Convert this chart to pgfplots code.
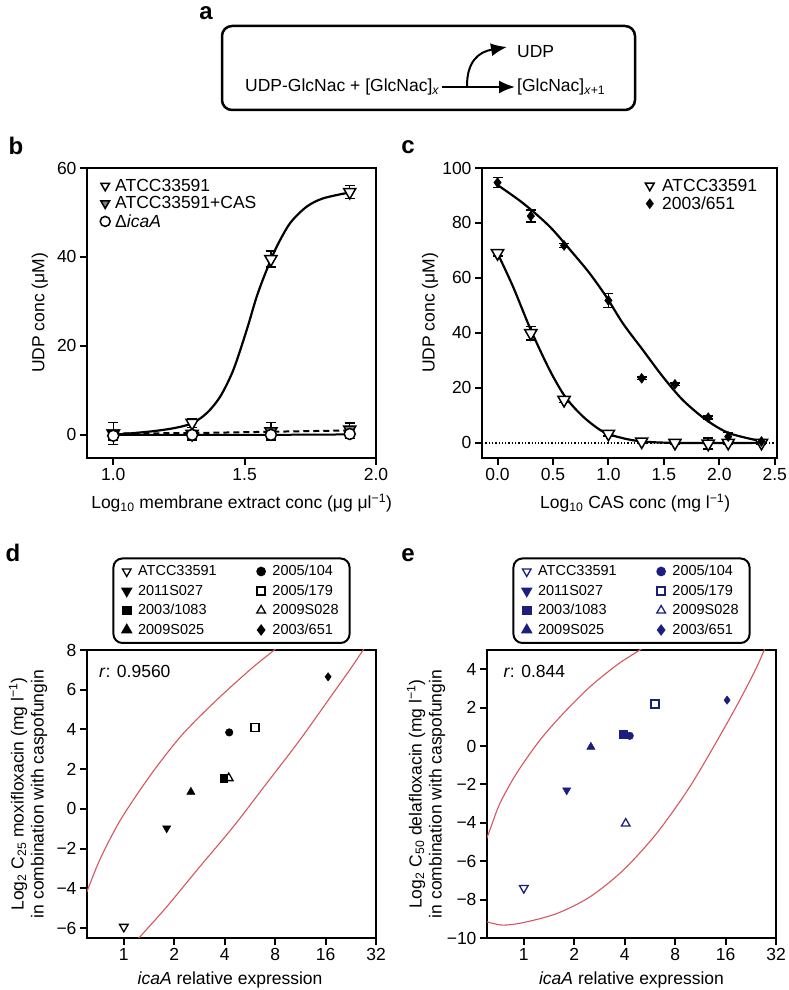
\documentclass[border=0pt]{standalone}
\usepackage{pgfplots}
\pgfplotsset{compat=1.18}
\usepackage{fontspec}
\setmainfont{Liberation Sans}
\usetikzlibrary{arrows.meta}
\definecolor{navy}{RGB}{28,30,125}
\definecolor{ellred}{RGB}{215,85,95}
\newcommand{\fs}{\fontsize{17.5}{20}\selectfont}
\newcommand{\fl}{\fontsize{14.5}{17}\selectfont}
\newcommand{\fp}{\fontsize{24}{28}\selectfont\bfseries}
\pgfplotsset{
  base/.style={
    scale only axis, anchor=south west,
    axis line style={line width=2.3pt},
    tick style={line width=2pt, black},
    tick align=outside, tick pos=left, major tick length=7pt,
    /pgf/number format/assume math mode=true,
    tick label style={font=\fs},
    label style={font=\fs},
    legend cell align=left,
  },
  ebar/.style={error bars/.cd, y dir=both, y explicit,
    error bar style={line width=1.5pt, black},
    error mark options={rotate=90, line width=1.5pt, mark size=5pt, black}},
  boxleg/.style={legend columns=2,
    legend style={at={(axis description cs:0.5,1)}, anchor=south, yshift=6pt, draw=black, line width=2pt, rounded corners=9pt, font=\fl, inner xsep=9pt, inner ysep=5pt, row sep=3.5pt,
      /tikz/every odd column/.append style={column sep=5pt},
      /tikz/every even column/.append style={column sep=38pt}}},
}
\begin{document}
\begin{tikzpicture}[x=1pt,y=1pt]
\useasboundingbox (0pt,0pt) rectangle (788pt,990pt);
% ---------------- panel a ----------------
\node[font=\fp] at (206pt,977pt) {a};
\draw[line width=2.5pt, rounded corners=10pt] (222pt,964pt) rectangle (635pt,880pt);
\node[font=\fs, anchor=west, inner sep=0pt] at (245pt,903pt) {UDP-GlcNac + [GlcNac]\textsubscript{\textit{x}}};
\draw[line width=2pt, -{Latex[length=16pt,width=13pt]}] (442pt,903pt) -- (515pt,903pt);
\draw[line width=2pt, -{Latex[length=16pt,width=13pt]}] (467pt,904pt) .. controls (467pt,928pt) and (478pt,938pt) .. (507pt,943pt);
\node[font=\fs, anchor=west, inner sep=0pt] at (517pt,938pt) {UDP};
\node[font=\fs, anchor=west, inner sep=0pt] at (517pt,903pt) {[GlcNac]\textsubscript{\textit{x}+1}};
% ---------------- panel b ----------------
\node[font=\fp] at (16pt,844pt) {b};
\begin{axis}[base, at={(87pt,532pt)}, width=289pt, height=290pt,
  xmin=0.9, xmax=2.0, ymin=-5.2, ymax=60,
  xtick={1,1.5,2}, xticklabels={1.0,1.5,2.0}, ytick={0,20,40,60},
  xlabel={Log\textsubscript{10} membrane extract conc (μg μl\textsuperscript{−1})},
  ylabel={UDP conc (μM)},
  xlabel style={at={(axis description cs:0.535,-0.155)}, anchor=center},
  ylabel style={at={(axis description cs:-0.163,0.5)}, anchor=center},
  legend style={at={(axis description cs:0.045,0.97)}, anchor=north west, draw=none, fill=none, font=\fs, row sep=0pt, inner sep=0pt,
    /tikz/every odd column/.append style={column sep=3pt}},
  legend image post style={mark size=5pt},
]
\addplot[only marks, mark=triangle*, mark size=7pt, mark options={rotate=180, fill=white, draw=black, line width=1.5pt}, ebar]
 coordinates {(1.0,0.3) +- (0,2.5) (1.3,2.7) +- (0,1) (1.6,39.5) +- (0,1.8) (1.9,54.6) +- (0,1.5)};
\addlegendentry{ATCC33591}
\addplot[only marks, mark=triangle*, mark size=7pt, mark options={rotate=180, fill=gray, draw=black, line width=1.5pt}, ebar]
 coordinates {(1.0,0.3) +- (0,2.5) (1.3,0.2) +- (0,1.5) (1.6,0.8) +- (0,2) (1.9,1.2) +- (0,1.5)};
\addlegendentry{ATCC33591+CAS}
\addplot[only marks, mark=*, mark size=5.5pt, mark options={fill=white, draw=black, line width=1.5pt}, ebar]
 coordinates {(1.0,-0.2) +- (0,1) (1.3,0) +- (0,1) (1.6,0) +- (0,1) (1.9,0.2) +- (0,1)};
\addlegendentry{Δ\textit{icaA}}
\addplot[line width=2.2pt, smooth, forget plot] coordinates {(1.0,0) (1.14,0.75) (1.23,1.5) (1.30,2.6) (1.356,4.9) (1.407,8.6) (1.457,14.6) (1.508,23.6) (1.546,31.1) (1.584,37.1) (1.622,42.3) (1.673,47.6) (1.736,51.3) (1.80,53.2) (1.90,54.5)};
\addplot[line width=2pt, dash pattern=on 6pt off 4pt, forget plot] coordinates {(1.0,0.3) (1.3,0.4) (1.6,0.7) (1.9,1.0)};
\addplot[line width=2pt, forget plot] coordinates {(1.0,0) (1.3,0) (1.6,0) (1.9,0.1)};
\end{axis}
% ---------------- panel c ----------------
\node[font=\fp] at (408pt,843pt) {c};
\begin{axis}[base, at={(482pt,532pt)}, width=295pt, height=290pt,
  xmin=-0.14, xmax=2.52, ymin=-5.5, ymax=100,
  xtick={0,0.5,1,1.5,2,2.5}, xticklabels={0.0,0.5,1.0,1.5,2.0,2.5}, ytick={0,20,...,100},
  xlabel={Log\textsubscript{10} CAS conc (mg l\textsuperscript{−1})},
  ylabel={UDP conc (μM)},
  xlabel style={at={(axis description cs:0.519,-0.155)}, anchor=center},
  ylabel style={at={(axis description cs:-0.176,0.5)}, anchor=center},
  legend style={at={(axis description cs:0.94,0.97)}, anchor=north east, draw=none, fill=none, font=\fs, row sep=0pt, inner sep=0pt,
    /tikz/every odd column/.append style={column sep=6pt}},
  legend image post style={mark size=5pt},
]
\addplot[line width=1.3pt, dotted, forget plot] coordinates {(-0.14,0) (2.52,0)};
\addplot[line width=2.2pt, smooth, forget plot] coordinates {(0,69) (0.14,56.8) (0.30,41.1) (0.47,26.5) (0.61,16.8) (0.77,9.6) (0.95,4.1) (1.13,1.7) (1.31,0.5) (1.61,0) (2.39,0)};
\addplot[line width=2.2pt, smooth, forget plot] coordinates {(0,93.8) (0.23,87.2) (0.47,78.7) (0.68,69) (0.83,61.7) (0.98,53.2) (1.13,43.5) (1.31,33.8) (1.49,24.1) (1.67,15.6) (1.88,8.4) (2.09,3.5) (2.39,0.5)};
\addplot[only marks, mark=triangle*, mark size=7pt, mark options={rotate=180, fill=white, draw=black, line width=1.5pt}, ebar]
 coordinates {(0,69) +- (0,1) (0.3,39.9) +- (0,2.5) (0.6,15.6) +- (0,1) (1.0,3.3) +- (0,0.8) (1.3,0.5) +- (0,0.5) (1.6,0) +- (0,0.5) (1.9,-0.3) +- (0,2) (2.08,0) +- (0,0.5) (2.38,0) +- (0,0.5)};
\addlegendentry{ATCC33591}
\addplot[only marks, mark=diamond*, mark size=5pt, mark options={fill=black, draw=black}, ebar]
 coordinates {(0,94.7) +- (0,1.8) (0.3,82.5) +- (0,2.2) (0.6,71.8) +- (0,0.8) (1.0,51.8) +- (0,2.5) (1.3,23.5) +- (0,0.5) (1.6,21.3) +- (0,0.5) (1.9,9.2) +- (0,0.5) (2.08,2.3) +- (0,1.5) (2.38,0.5) +- (0,0.5)};
\addlegendentry{2003/651}
\end{axis}
% ---------------- panel d ----------------
\node[font=\fp] at (13pt,437pt) {d};
\begin{axis}[base, boxleg, at={(87pt,52pt)}, width=289pt, height=288pt,
  xmin=-0.73, xmax=5, ymin=-6.5, ymax=8,
  xtick={0,1,2,3,4,5}, xticklabels={1,2,4,8,16,32},
  ytick={-6,-4,-2,0,2,4,6,8}, yticklabels={−6,−4,−2,0,2,4,6,8},
  xlabel={\textit{icaA} relative expression},
  ylabel={Log\textsubscript{2} C\textsubscript{25} moxifloxacin (mg l\textsuperscript{−1})\\in combination with caspofungin},
  xlabel style={at={(axis description cs:0.495,-0.146)}, anchor=center},
  ylabel style={at={(axis description cs:-0.204,0.5)}, anchor=center, align=center},
]
\addplot[ellred, line width=1.1pt, smooth, forget plot] coordinates {(-0.8,-4.6) (-0.72,-4.09) (-0.48,-2.58) (-0.145,-0.9) (0.185,0.44) (0.65,2.12) (1.18,3.8) (1.84,5.48) (2.5,7.0) (2.9,7.83) (3.2,8.45)};
\addplot[ellred, line width=1.1pt, smooth, forget plot] coordinates {(0.2,-6.78) (0.32,-6.44) (0.85,-4.93) (1.51,-2.9) (2.17,-0.9) (2.83,1.28) (3.49,3.47) (4.15,5.82) (4.48,7.0) (4.7,7.83) (4.85,8.4)};
\addplot[only marks, black, mark=triangle, mark size=5pt, mark options={rotate=180, line width=1.3pt}] coordinates {(0,-5.94)};
\addlegendentry{ATCC33591}
\addplot[only marks, black, mark=*, mark size=3.8pt] coordinates {(2.09,3.85)};
\addlegendentry{2005/104}
\addplot[only marks, black, mark=triangle*, mark size=4.8pt, mark options={rotate=180}] coordinates {(0.85,-0.97)};
\addlegendentry{2011S027}
\addplot[only marks, black, mark=square, mark size=4pt, mark options={line width=1.3pt}] coordinates {(2.6,4.1)};
\addlegendentry{2005/179}
\addplot[only marks, black, mark=square*, mark size=3.8pt] coordinates {(1.98,1.55)};
\addlegendentry{2003/1083}
\addplot[only marks, black, mark=triangle, mark size=5pt, mark options={line width=1.3pt}] coordinates {(2.08,1.55)};
\addlegendentry{2009S028}
\addplot[only marks, black, mark=triangle*, mark size=4.8pt] coordinates {(1.33,0.85)};
\addlegendentry{2009S025}
\addplot[only marks, black, mark=diamond*, mark size=4.2pt] coordinates {(4.05,6.65)};
\addlegendentry{2003/651}
\node[font=\fs, anchor=west] at (axis description cs:0.03,0.927) {\textit{r}: 0.9560};
\end{axis}
% ---------------- panel e ----------------
\node[font=\fp] at (408pt,435pt) {e};
\begin{axis}[base, boxleg, at={(487pt,52pt)}, width=289pt, height=288pt,
  xmin=-0.73, xmax=5, ymin=-10, ymax=5,
  xtick={0,1,2,3,4,5}, xticklabels={1,2,4,8,16,32},
  ytick={-10,-8,-6,-4,-2,0,2,4}, yticklabels={−10,−8,−6,−4,−2,0,2,4},
  xlabel={\textit{icaA} relative expression},
  ylabel={Log\textsubscript{2} C\textsubscript{50} delafloxacin (mg l\textsuperscript{−1})\\in combination with caspofungin},
  xlabel style={at={(axis description cs:0.50,-0.146)}, anchor=center},
  ylabel style={at={(axis description cs:-0.211,0.5)}, anchor=center, align=center},
]
\addplot[ellred, line width=1.1pt, smooth, forget plot] coordinates {(-0.8,-5.26) (-0.675,-4.39) (-0.476,-3.0) (-0.145,-1.43) (0.317,0.3) (0.78,1.69) (1.31,3.08) (1.84,4.21) (2.24,4.9) (2.5,5.35)};
\addplot[ellred, line width=1.1pt, smooth, forget plot] coordinates {(-0.8,-9.1) (-0.675,-9.2) (-0.41,-9.33) (-0.013,-9.2) (0.65,-8.73) (1.31,-7.86) (1.97,-6.47) (2.63,-4.56) (3.29,-2.13) (3.95,0.82) (4.35,2.73) (4.62,4.12) (4.75,4.9) (4.85,5.5)};
\addplot[only marks, navy, mark=triangle, mark size=5pt, mark options={rotate=180, line width=1.3pt}] coordinates {(0,-7.4)};
\addlegendentry{ATCC33591}
\addplot[only marks, navy, mark=*, mark size=3.8pt] coordinates {(2.1,0.53)};
\addlegendentry{2005/104}
\addplot[only marks, navy, mark=triangle*, mark size=4.8pt, mark options={rotate=180}] coordinates {(0.85,-2.3)};
\addlegendentry{2011S027}
\addplot[only marks, navy, mark=square, mark size=4pt, mark options={line width=1.3pt}] coordinates {(2.6,2.18)};
\addlegendentry{2005/179}
\addplot[only marks, navy, mark=square*, mark size=3.8pt] coordinates {(1.97,0.6)};
\addlegendentry{2003/1083}
\addplot[only marks, navy, mark=triangle, mark size=5pt, mark options={line width=1.3pt}] coordinates {(2.02,-4.04)};
\addlegendentry{2009S028}
\addplot[only marks, navy, mark=triangle*, mark size=4.8pt] coordinates {(1.33,-0.05)};
\addlegendentry{2009S025}
\addplot[only marks, navy, mark=diamond*, mark size=4.2pt] coordinates {(4.03,2.39)};
\addlegendentry{2003/651}
\node[font=\fs, anchor=west] at (axis description cs:0.045,0.927) {\textit{r}: 0.844};
\end{axis}
\end{tikzpicture}
\end{document}
